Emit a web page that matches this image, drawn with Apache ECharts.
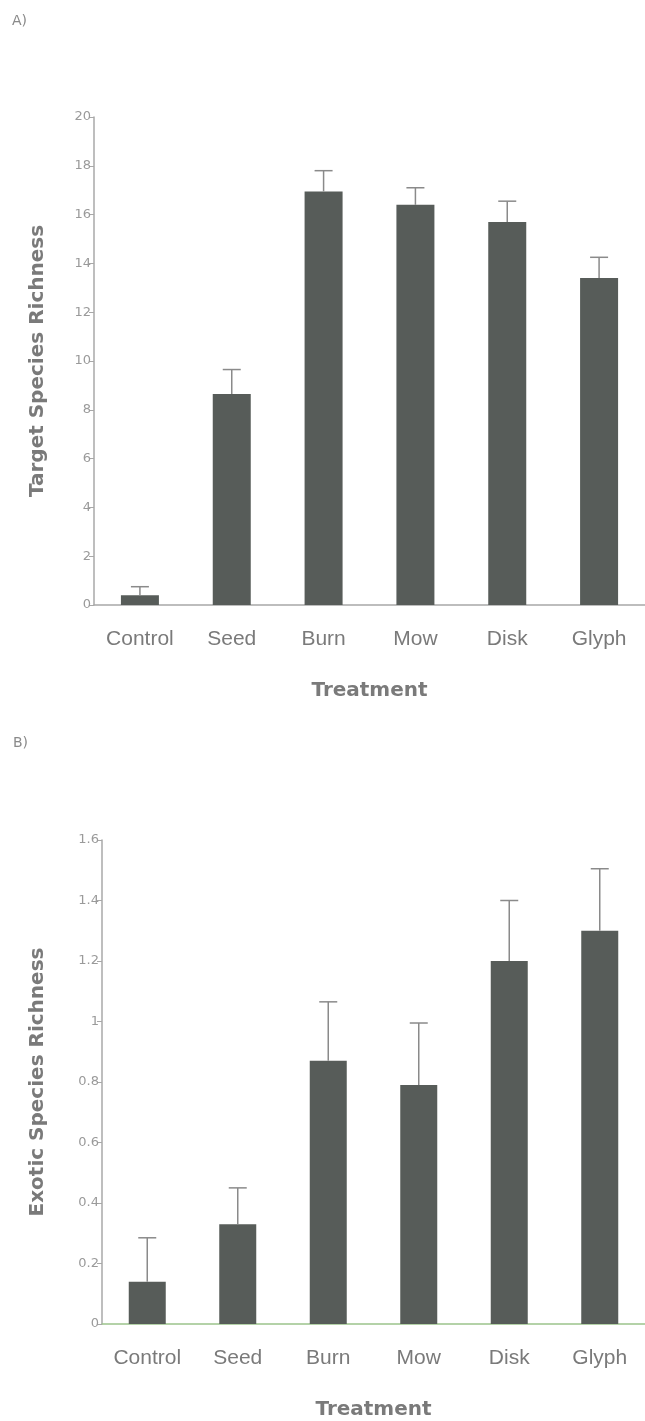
<!DOCTYPE html>
<html>
<head>
<meta charset="utf-8">
<script src="https://cdn.jsdelivr.net/npm/echarts@6/dist/echarts.min.js"></script>
<style>
html,body{margin:0;padding:0;background:#fff;}
#chart{width:645px;height:1421px;}
</style>
</head>
<body>
<div id="chart"></div>
<script>
var categories = ['Control', 'Seed', 'Burn', 'Mow', 'Disk', 'Glyph'];
var targetMean = [0.4, 8.65, 16.95, 16.4, 15.7, 13.4];
var targetErr = [0.35, 1.0, 0.85, 0.7, 0.85, 0.85];
var exoticMean = [0.14, 0.33, 0.87, 0.79, 1.2, 1.3];
var exoticErr = [0.145, 0.12, 0.195, 0.205, 0.2, 0.205];
var targetTicks = ['0', '2', '4', '6', '8', '10', '12', '14', '16', '18', '20'];
var exoticTicks = ['0', '0.2', '0.4', '0.6', '0.8', '1', '1.2', '1.4', '1.6'];

var barColor = '#575c59';
var errColor = '#8a8a8a';

function errData(mean, err) {
  return mean.map(function (m, i) { return [i, m, m + err[i]]; });
}

function errRender(params, api) {
  var x = api.value(0);
  var lo = api.coord([x, api.value(1)]);
  var hi = api.coord([x, api.value(2)]);
  var half = 9;
  return {
    type: 'group',
    children: [
      { type: 'line', shape: { x1: lo[0], y1: lo[1], x2: hi[0], y2: hi[1] }, style: { stroke: errColor, lineWidth: 1.5 } },
      { type: 'line', shape: { x1: hi[0] - half, y1: hi[1], x2: hi[0] + half, y2: hi[1] }, style: { stroke: errColor, lineWidth: 1.5 } }
    ]
  };
}

var tickLabelStyle = { color: '#9a9a9a', fontSize: 13, fontFamily: 'DejaVu Sans', margin: 3 };
var catLabelStyle = { color: '#7a7a7a', fontSize: 21, fontFamily: 'Liberation Sans', margin: 24 };
var nameStyleY = { color: '#7a7a7a', fontSize: 20, fontWeight: 'bold', fontFamily: 'DejaVu Sans' };
var nameStyleX = { color: '#7a7a7a', fontSize: 20, fontWeight: 'bold', fontFamily: 'DejaVu Sans' };

var chart = echarts.init(document.getElementById('chart'), null, { renderer: 'canvas' });
chart.setOption({
  backgroundColor: '#fff',
  animation: false,
  graphic: [
    { type: 'text', left: 12, top: 14, style: { text: 'A)', fill: '#8a8a8a', font: '14px "DejaVu Sans"' } },
    { type: 'text', left: 13, top: 736, style: { text: 'B)', fill: '#8a8a8a', font: '14px "DejaVu Sans"' } }
  ],
  grid: [
    { left: 94, right: 0, top: 117, height: 488 },
    { left: 102, right: 0, top: 840, height: 484 }
  ],
  xAxis: [
    {
      type: 'category', gridIndex: 0, data: categories,
      axisLine: { lineStyle: { color: '#a8a8a8', width: 1.5 } },
      axisTick: { show: false },
      axisLabel: catLabelStyle,
      name: 'Treatment', nameLocation: 'middle', nameGap: 76, nameTextStyle: nameStyleX
    },
    {
      type: 'category', gridIndex: 1, data: categories,
      axisLine: { lineStyle: { color: '#9cc48c', width: 1.5 } },
      axisTick: { show: false },
      axisLabel: catLabelStyle,
      name: 'Treatment', nameLocation: 'middle', nameGap: 76, nameTextStyle: nameStyleX
    }
  ],
  yAxis: [
    {
      type: 'value', gridIndex: 0, min: 0, max: 20, interval: 2,
      axisLine: { show: true, lineStyle: { color: '#a8a8a8', width: 1.5 } },
      axisTick: { show: true, length: 5, lineStyle: { color: '#a8a8a8' } },
      splitLine: { show: false },
      axisLabel: Object.assign({}, tickLabelStyle, { formatter: function (v) { return targetTicks[Math.round(v / 2)]; } }),
      name: 'Target Species Richness', nameLocation: 'middle', nameGap: 46, nameTextStyle: nameStyleY
    },
    {
      type: 'value', gridIndex: 1, min: 0, max: 1.6, interval: 0.2,
      axisLine: { show: true, lineStyle: { color: '#a8a8a8', width: 1.5 } },
      axisTick: { show: true, length: 5, lineStyle: { color: '#a8a8a8' } },
      splitLine: { show: false },
      axisLabel: Object.assign({}, tickLabelStyle, { formatter: function (v) { return exoticTicks[Math.round(v / 0.2)]; } }),
      name: 'Exotic Species Richness', nameLocation: 'middle', nameGap: 54, nameTextStyle: nameStyleY
    }
  ],
  series: [
    { type: 'bar', xAxisIndex: 0, yAxisIndex: 0, data: targetMean, barWidth: 38, itemStyle: { color: barColor } },
    { type: 'custom', xAxisIndex: 0, yAxisIndex: 0, data: errData(targetMean, targetErr), renderItem: errRender, z: 3 },
    { type: 'bar', xAxisIndex: 1, yAxisIndex: 1, data: exoticMean, barWidth: 37, itemStyle: { color: barColor } },
    { type: 'custom', xAxisIndex: 1, yAxisIndex: 1, data: errData(exoticMean, exoticErr), renderItem: errRender, z: 3 }
  ]
});
</script>
</body>
</html>
